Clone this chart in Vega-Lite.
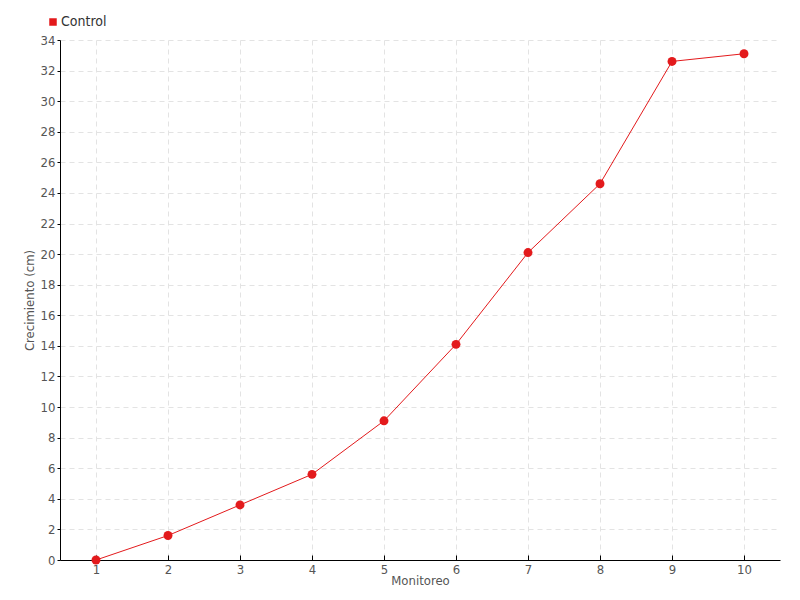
{
  "$schema": "https://vega.github.io/schema/vega-lite/v6.json",
  "width": 720,
  "height": 520,
  "autosize": {"type": "none"},
  "padding": {"left": 60, "top": 40, "right": 20, "bottom": 40},
  "background": "white",
  "config": {
    "view": {"stroke": null},
    "font": "DejaVu Sans Condensed, Roboto, sans-serif",
    "axis": {
      "labelFont": "DejaVu Sans Condensed, Roboto, sans-serif",
      "titleFont": "DejaVu Sans Condensed, Roboto, sans-serif",
      "labelColor": "#555555",
      "titleColor": "#555555",
      "labelFontSize": 13,
      "titleFontSize": 13,
      "titleFontWeight": "normal",
      "domainColor": "#000000",
      "tickColor": "#000000",
      "gridColor": "#e3e3e3",
      "gridDash": [5, 4]
    }
  },
  "data": {
    "values": [
      {"monitoreo": "1", "crecimiento": 0, "serie": "Control"},
      {"monitoreo": "2", "crecimiento": 1.6, "serie": "Control"},
      {"monitoreo": "3", "crecimiento": 3.6, "serie": "Control"},
      {"monitoreo": "4", "crecimiento": 5.6, "serie": "Control"},
      {"monitoreo": "5", "crecimiento": 9.1, "serie": "Control"},
      {"monitoreo": "6", "crecimiento": 14.1, "serie": "Control"},
      {"monitoreo": "7", "crecimiento": 20.1, "serie": "Control"},
      {"monitoreo": "8", "crecimiento": 24.6, "serie": "Control"},
      {"monitoreo": "9", "crecimiento": 32.6, "serie": "Control"},
      {"monitoreo": "10", "crecimiento": 33.1, "serie": "Control"}
    ]
  },
  "encoding": {
    "x": {
      "field": "monitoreo",
      "type": "ordinal",
      "sort": null,
      "scale": {"type": "point", "padding": 0.5},
      "axis": {
        "title": "Monitoreo",
        "labelAngle": 0,
        "grid": true,
        "tickSize": -5,
        "labelPadding": 8,
        "titlePadding": -2
      }
    },
    "y": {
      "field": "crecimiento",
      "type": "quantitative",
      "scale": {"domain": [0, 34], "nice": false},
      "axis": {
        "title": "Crecimiento (cm)",
        "values": [0, 2, 4, 6, 8, 10, 12, 14, 16, 18, 20, 22, 24, 26, 28, 30, 32, 34],
        "tickSize": 3,
        "labelPadding": 2,
        "titlePadding": 4
      }
    },
    "color": {
      "field": "serie",
      "type": "nominal",
      "scale": {"range": ["#e31a1c"]},
      "legend": {
        "title": null,
        "orient": "none",
        "legendX": -14,
        "legendY": -25,
        "symbolType": "square",
        "symbolSize": 36,
        "symbolOffset": 0,
        "labelFont": "DejaVu Sans Condensed, Roboto, sans-serif",
        "labelFontSize": 14,
        "labelColor": "#333333",
        "labelOffset": 1
      }
    }
  },
  "layer": [
    {"mark": {"type": "line", "color": "#ff3344", "strokeWidth": 1}},
    {"mark": {"type": "point", "filled": true, "size": 80, "opacity": 1, "color": "#e31a1c"}}
  ]
}
